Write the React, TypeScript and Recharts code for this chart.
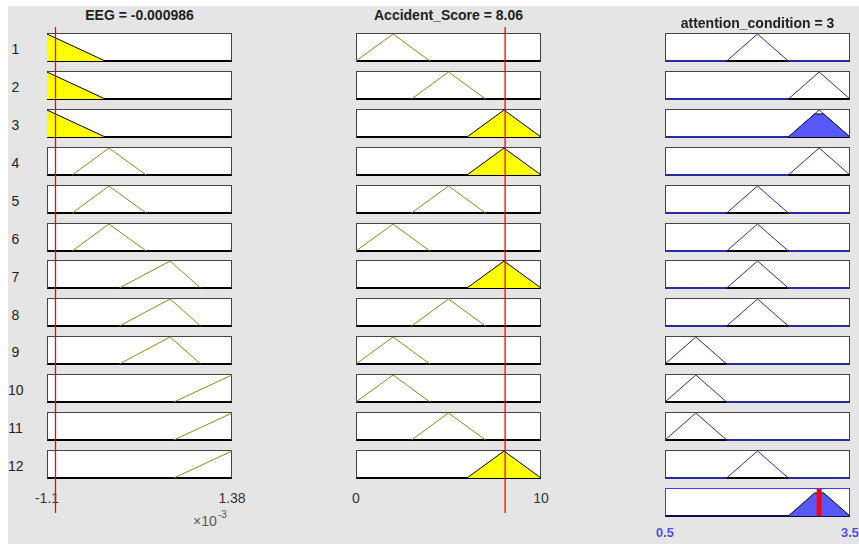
import React from 'react';
import { ComposedChart, Line, Area, XAxis, YAxis, ReferenceLine } from 'recharts';

// ---------- data ----------
const ruleNumbers = ['1', '2', '3', '4', '5', '6', '7', '8', '9', '10', '11', '12'];

const eegTitle = 'EEG = -0.000986';
const accTitle = 'Accident_Score = 8.06';
const attTitle = 'attention_condition = 3';

const eegDomain = [-1.1, 1.38]; // ×10^-3
const accDomain = [0, 10];
const attDomain = [0.5, 3.5];

const eegTicks = [-1.1, 1.38];
const accTicks = [0, 10];
const attTicks = [0.5, 3.5];
const eegTickLabels = ['-1.1', '1.38'];
const accTickLabels = ['0', '10'];
const attTickLabels = ['0.5', '3.5'];

const eegInput = -0.986; // ×10^-3
const accInput = 8.06;
const attOutput = 3;

// membership function breakpoints
const eegMfX = [[-1.1, -0.32], [-0.76, -0.27, 0.23], [-0.13, 0.55, 0.96], [0.6, 1.38]];
const eegMfY = [[1, 0], [0, 1, 0], [0, 1, 0], [0, 1]];
const accMfX = [[0, 2, 4], [3, 5, 7], [6, 8, 10]];
const accMfY = [[0, 1, 0], [0, 1, 0], [0, 1, 0]];
const attMfX = [[0.5, 1, 1.5], [1.5, 2, 2.5], [2.5, 3, 3.5]];
const attMfY = [[0, 1, 0], [0, 1, 0], [0, 1, 0]];

// rule table (index of MF per rule)
const ruleEeg = [0, 0, 0, 1, 1, 1, 2, 2, 2, 3, 3, 3];
const ruleAcc = [0, 1, 2, 2, 1, 0, 2, 1, 0, 0, 1, 2];
const ruleAtt = [1, 2, 2, 2, 1, 1, 1, 1, 0, 0, 0, 1];

// ---------- layout ----------
const PX = 8;
const PY = 6;
const X = (x: number) => x - PX;
const Y = (y: number) => y - PY;
const colLeft = [47, 356, 665];
const COL_W = 185;
const BOX_H = 29;
const rowTop = (r: number) => 33 + r * 37.9;
const FONT = '"Liberation Sans", Arial, Helvetica, sans-serif';

const OLIVE = '#8a8a1c';
const NAVY = '#2a2aa0';
const BLUE_FILL = '#5858ff';

function mu(xs: number[], ys: number[], v: number) {
  if (v <= xs[0]) return ys[0];
  if (v >= xs[xs.length - 1]) return ys[ys.length - 1];
  for (let i = 0; i < xs.length - 1; i++) {
    if (v >= xs[i] && v <= xs[i + 1]) {
      const t = (v - xs[i]) / (xs[i + 1] - xs[i]);
      return ys[i] + t * (ys[i + 1] - ys[i]);
    }
  }
  return 0;
}

function toPts(xs: number[], ys: number[]) {
  return xs.map((x, i) => ({ x, y: ys[i] }));
}

function clipTri(xs: number[], h: number) {
  const [a, b, c] = xs;
  return [
    { x: a, y: 0 },
    { x: a + (b - a) * h, y: h },
    { x: c - (c - b) * h, y: h },
    { x: c, y: 0 },
  ];
}

function Box({ left, top, border, bottom }: { left: number; top: number; border: string; bottom: string }) {
  return (
    <div
      style={{
        position: 'absolute',
        left: X(left),
        top: Y(top),
        width: COL_W,
        height: BOX_H,
        boxSizing: 'border-box',
        background: '#fff',
        borderTop: `1px solid ${border}`,
        borderLeft: `1px solid ${border}`,
        borderRight: `1px solid ${border}`,
        borderBottom: `2px solid ${bottom}`,
      }}
    />
  );
}

function Cell({ left, top, children }: { left: number; top: number; children: React.ReactNode }) {
  return <div style={{ position: 'absolute', left: X(left), top: Y(top), width: COL_W, height: BOX_H }}>{children}</div>;
}

function InputCell({ left, top, domain, xs, ys, filled }: any) {
  const pts = toPts(xs, ys);
  return (
    <Cell left={left} top={top}>
      <ComposedChart width={COL_W} height={BOX_H} margin={{ top: 1, right: 0, bottom: 1, left: 0 }}>
        <XAxis type="number" dataKey="x" domain={domain} hide />
        <YAxis type="number" domain={[0, 1]} hide />
        {filled ? (
          <Area data={pts} dataKey="y" type="linear" fill="#ffff00" fillOpacity={1} stroke="#000" strokeWidth={1} dot={false} activeDot={false} isAnimationActive={false} />
        ) : (
          <Line data={pts} dataKey="y" type="linear" stroke={OLIVE} strokeWidth={1} dot={false} activeDot={false} isAnimationActive={false} />
        )}
      </ComposedChart>
    </Cell>
  );
}

function OutputCell({ left, top, xs, ys, clip }: any) {
  const pts = toPts(xs, ys);
  const leftBase = xs[0] > attDomain[0] ? [{ x: attDomain[0], y: 0 }, { x: xs[0], y: 0 }] : null;
  const rightBase = xs[xs.length - 1] < attDomain[1] ? [{ x: xs[xs.length - 1], y: 0 }, { x: attDomain[1], y: 0 }] : null;
  return (
    <Cell left={left} top={top}>
      <ComposedChart width={COL_W} height={BOX_H} margin={{ top: 1, right: 0, bottom: 1, left: 0 }}>
        <XAxis type="number" dataKey="x" domain={attDomain} hide />
        <YAxis type="number" domain={[0, 1]} hide />
        {leftBase && <Line data={leftBase} dataKey="y" type="linear" stroke={NAVY} strokeWidth={2} dot={false} activeDot={false} isAnimationActive={false} />}
        {rightBase && <Line data={rightBase} dataKey="y" type="linear" stroke={NAVY} strokeWidth={2} dot={false} activeDot={false} isAnimationActive={false} />}
        <Line data={pts} dataKey="y" type="linear" stroke={NAVY} strokeWidth={1} dot={false} activeDot={false} isAnimationActive={false} />
        {clip > 0 && (
          <Area data={clipTri(xs, clip)} dataKey="y" type="linear" fill={BLUE_FILL} fillOpacity={1} stroke="#000" strokeWidth={1} dot={false} activeDot={false} isAnimationActive={false} />
        )}
      </ComposedChart>
    </Cell>
  );
}

function RedLine({ left, domain, value }: any) {
  const top = 27;
  const h = 513 - 27;
  return (
    <div style={{ position: 'absolute', left: X(left), top: Y(top), width: COL_W, height: h }}>
      <ComposedChart width={COL_W} height={h} margin={{ top: 0, right: 0, bottom: 0, left: 0 }}>
        <XAxis type="number" dataKey="x" domain={domain} hide />
        <YAxis type="number" domain={[0, 1]} hide />
        <Line data={[{ x: domain[0], y: 0 }, { x: domain[1], y: 0 }]} dataKey="y" stroke="none" dot={false} activeDot={false} isAnimationActive={false} />
        <ReferenceLine x={value} stroke="#ff0000" strokeWidth={1.3} />
      </ComposedChart>
    </div>
  );
}

function TickAxis({ left, axisY, domain, ticks, labels, color, bold, size }: any) {
  const pad = 30;
  return (
    <div style={{ position: 'absolute', left: X(left - pad), top: Y(axisY - 6), width: COL_W + 2 * pad, height: 30 }}>
      <ComposedChart width={COL_W + 2 * pad} height={30} margin={{ top: 0, right: pad, bottom: 0, left: pad }}>
        <XAxis
          type="number"
          dataKey="x"
          domain={domain}
          ticks={ticks}
          interval={0}
          height={24}
          axisLine={false}
          tickLine={false}
          tickSize={0}
          tickMargin={0}
          tickFormatter={(v: number) => labels[ticks.indexOf(v)]}
          tick={{ fill: color, fontSize: size, fontFamily: FONT, fontWeight: bold ? 'bold' : 'normal' }}
        />
        <YAxis type="number" domain={[0, 1]} hide />
        <Line data={[{ x: domain[0], y: 0 }, { x: domain[1], y: 0 }]} dataKey="y" stroke="none" dot={false} activeDot={false} isAnimationActive={false} />
      </ComposedChart>
    </div>
  );
}

function Title({ col, text, top }: { col: number; text: string; top: number }) {
  return (
    <div
      style={{
        position: 'absolute',
        left: X(colLeft[col] - 60),
        width: COL_W + 120,
        top: Y(top),
        textAlign: 'center',
        fontSize: 14,
        lineHeight: '16px',
        fontWeight: 'bold',
        color: '#222',
        whiteSpace: 'nowrap',
      }}
    >
      {text}
    </div>
  );
}

export default function App() {
  const eegMu = ruleEeg.map((m) => mu(eegMfX[m], eegMfY[m], eegInput));
  const accMu = ruleAcc.map((m) => mu(accMfX[m], accMfY[m], accInput));
  const firing = eegMu.map((v, i) => Math.min(v, accMu[i]));

  return (
    <div
      style={{
        position: 'fixed',
        left: PX,
        top: PY,
        width: 851,
        height: 538,
        background: '#e5e5e5',
        fontFamily: FONT,
      }}
    >
      <Title col={0} text={eegTitle} top={7} />
      <Title col={1} text={accTitle} top={7} />
      <Title col={2} text={attTitle} top={14.5} />

      {ruleNumbers.map((label, r) => (
        <div
          key={'lbl' + r}
          style={{
            position: 'absolute',
            left: 0,
            width: 15,
            top: Y(rowTop(r) + 8.2),
            textAlign: 'center',
            fontSize: 14,
            lineHeight: '16px',
            color: '#222',
          }}
        >
          {label}
        </div>
      ))}

      {ruleNumbers.map((_, r) => (
        <React.Fragment key={'boxes' + r}>
          <Box left={colLeft[0]} top={rowTop(r)} border="#444" bottom="#000" />
          <Box left={colLeft[1]} top={rowTop(r)} border="#444" bottom="#000" />
          <Box left={colLeft[2]} top={rowTop(r)} border="#444" bottom="#000" />
        </React.Fragment>
      ))}
      <Box left={colLeft[2]} top={rowTop(12)} border="#3c3cff" bottom="#10104a" />

      {ruleNumbers.map((_, r) => (
        <React.Fragment key={'cells' + r}>
          <InputCell left={colLeft[0]} top={rowTop(r)} domain={eegDomain} xs={eegMfX[ruleEeg[r]]} ys={eegMfY[ruleEeg[r]]} filled={eegMu[r] > 0} />
          <InputCell left={colLeft[1]} top={rowTop(r)} domain={accDomain} xs={accMfX[ruleAcc[r]]} ys={accMfY[ruleAcc[r]]} filled={accMu[r] > 0} />
          <OutputCell left={colLeft[2]} top={rowTop(r)} xs={attMfX[ruleAtt[r]]} ys={attMfY[ruleAtt[r]]} clip={firing[r]} />
        </React.Fragment>
      ))}

      {/* aggregated output */}
      <Cell left={colLeft[2]} top={rowTop(12)}>
        <ComposedChart width={COL_W} height={BOX_H} margin={{ top: 1, right: 0, bottom: 1, left: 0 }}>
          <XAxis type="number" dataKey="x" domain={attDomain} hide />
          <YAxis type="number" domain={[0, 1]} hide />
          {firing.map((f, i) =>
            f > 0 ? (
              <Area key={'agg' + i} data={clipTri(attMfX[ruleAtt[i]], f)} dataKey="y" type="linear" fill={BLUE_FILL} fillOpacity={1} stroke="#000" strokeWidth={1} dot={false} activeDot={false} isAnimationActive={false} />
            ) : null
          )}
          <ReferenceLine x={attOutput} stroke="#ff0000" strokeWidth={5} />
        </ComposedChart>
      </Cell>

      <TickAxis left={colLeft[0]} axisY={493} domain={eegDomain} ticks={eegTicks} labels={eegTickLabels} color="#333" size={14} />
      <TickAxis left={colLeft[1]} axisY={493} domain={accDomain} ticks={accTicks} labels={accTickLabels} color="#333" size={14} />
      <TickAxis left={colLeft[2]} axisY={528} domain={attDomain} ticks={attTicks} labels={attTickLabels} color="#4a4ae6" bold size={13} />

      <div style={{ position: 'absolute', left: X(193), top: Y(513), fontSize: 14, lineHeight: '16px', color: '#555' }}>×10</div>
      <div style={{ position: 'absolute', left: X(218), top: Y(508.6), fontSize: 10, lineHeight: '12px', color: '#555' }}>-3</div>

      <RedLine left={colLeft[0]} domain={eegDomain} value={eegInput} />
      <RedLine left={colLeft[1]} domain={accDomain} value={accInput} />
    </div>
  );
}
